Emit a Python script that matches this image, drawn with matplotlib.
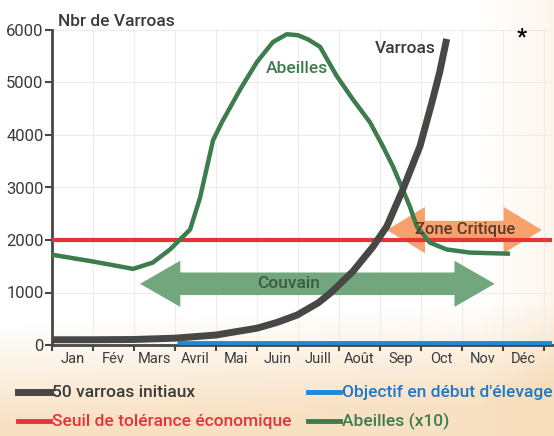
import numpy as np
import matplotlib.pyplot as plt
from matplotlib.patches import Polygon
from matplotlib.lines import Line2D

plt.rcParams['font.family'] = ['Roboto', 'DejaVu Sans']

months = ['Jan', 'Fév', 'Mars', 'Avril', 'Mai', 'Juin', 'Juill', 'Août',
          'Sep', 'Oct', 'Nov', 'Déc']

# varroa population (50 initial mites), x in months from 1 Jan
varroa_x = [0, 1, 2, 3, 4, 5.0, 5.49, 5.98, 6.49, 6.78, 7.34, 7.83, 8.17,
            8.56, 8.98, 9.29, 9.46, 9.63]
varroa_y = [100, 100, 105, 130, 190, 320, 430, 570, 800, 980, 1400, 1870,
            2260, 2960, 3790, 4680, 5200, 5830]

# bees (x10)
bees_x = [0, 1, 1.98, 2.46, 2.88, 3.37, 3.61, 3.93, 4.15, 4.6, 5.0, 5.39,
          5.73, 6.0, 6.25, 6.54, 6.95, 7.34, 7.76, 8.07, 8.32, 8.56, 8.73,
          8.9, 9.22, 9.63, 10.2, 11.12]
bees_y = [1720, 1590, 1450, 1570, 1820, 2200, 2800, 3900, 4250, 4880, 5390,
          5770, 5920, 5900, 5820, 5680, 5120, 4680, 4240, 3790, 3400, 2960,
          2640, 2260, 1950, 1820, 1760, 1740]

seuil = 2000
objectif = 30
objectif_start = 3.05

C_GRAY = '#474846'
C_RED = '#e6333a'
C_BLUE = '#1c8ad8'
C_GREEN = '#3d7c4e'
C_COUV = '#72a67c'
C_ZONE = '#f8a16c'
C_TXT = '#3b3b3b'

fig = plt.figure(figsize=(5.54, 4.36), dpi=100)

# warm background
bg = fig.add_axes([0, 0, 1, 1], zorder=-5)
yy, xx = np.mgrid[0:436, 0:554]
f = np.clip((yy - 300 - 25 * (1 - xx / 554.0)) / 100.0, 0, 1) * 0.9 \
    + np.clip((xx - 480) / 90.0, 0, 1) * 0.35
f = np.clip(f, 0, 1)
white = np.array([1.0, 1.0, 1.0])
peach = np.array([0.97, 0.87, 0.74])
img = white[None, None, :] * (1 - f[..., None]) + peach[None, None, :] * f[..., None]
bg.imshow(img, aspect='auto', extent=[0, 1, 0, 1], origin='upper')
bg.axis('off')

ax = fig.add_axes([52 / 554, 91 / 436, 500 / 554, 315 / 436])
ax.patch.set_alpha(0)
ax.set_xlim(0, 12.2)
ax.set_ylim(0, 6000)

# grid
for i in range(1, 13):
    ax.axvline(i, color='#ececea', lw=0.8, zorder=0)
for v in range(1000, 7000, 1000):
    ax.axhline(v, color='#ececea', lw=0.8, zorder=0)


def double_arrow(x0, x1, yc, shaft, head, hlen, color):
    pts = [(x0, yc), (x0 + hlen, yc + head), (x0 + hlen, yc + shaft),
           (x1 - hlen, yc + shaft), (x1 - hlen, yc + head), (x1, yc),
           (x1 - hlen, yc - head), (x1 - hlen, yc - shaft),
           (x0 + hlen, yc - shaft), (x0 + hlen, yc - head)]
    ax.add_patch(Polygon(pts, closed=True, fc=color, ec='none', zorder=1))


double_arrow(2.15, 10.8, 1166, 215, 440, 0.98, C_COUV)
double_arrow(8.17, 11.95, 2190, 175, 440, 0.93, C_ZONE)

ax.plot([0, 12.2], [seuil, seuil], color=C_RED, lw=3, zorder=3)
ax.plot([objectif_start, 12.2], [objectif, objectif], color=C_BLUE, lw=3.5,
        zorder=3, solid_capstyle='butt')
ax.plot(bees_x, bees_y, color=C_GREEN, lw=3.2, zorder=4,
        solid_joinstyle='round')
ax.plot(varroa_x, varroa_y, color=C_GRAY, lw=5, zorder=5,
        solid_capstyle='butt', solid_joinstyle='round')

ax.text(5.76, 1166, 'Couvain', color='#3c5a44', fontsize=12.5, weight='medium',
        ha='center', va='center', zorder=6)
ax.text(10.07, 2200, 'Zone Critique', color='#5a3a2c', fontsize=12,
        weight='medium', ha='center', va='center', zorder=6)
ax.text(5.98, 5260, 'Abeilles', color=C_GREEN, fontsize=12.5, weight='medium',
        ha='center', va='center', zorder=6)
ax.text(8.63, 5640, 'Varroas', color=C_TXT, fontsize=12.5, weight='medium',
        ha='center', va='center', zorder=6)

# axes styling
for s in ['top', 'right']:
    ax.spines[s].set_visible(False)
for s in ['left', 'bottom']:
    ax.spines[s].set_color(C_GRAY)
    ax.spines[s].set_linewidth(2)
ax.set_yticks(range(0, 7000, 1000))
ax.tick_params(axis='y', length=5, width=1.5, color=C_GRAY, labelsize=12,
               labelcolor=C_TXT, pad=1)
ax.set_xticks(range(0, 13))
ax.set_xticklabels([])
ax.tick_params(axis='x', which='major', length=4, width=1.5, color=C_GRAY)
ax.set_xticks(np.arange(0.5, 12, 1), minor=True)
ax.set_xticklabels(months, minor=True)
ax.tick_params(axis='x', which='minor', length=0, labelsize=10.5,
               labelcolor=C_TXT, pad=5)

fig.text(58 / 554, 1 - 22 / 436, 'Nbr de Varroas', color=C_TXT, fontsize=12.5,
         weight='medium', va='center', ha='left')
fig.text(522 / 554, 1 - 37 / 436, '*', color='black', fontsize=16,
         weight='bold', va='center', ha='center')

# legend
leg = [(18, 392, C_GRAY, 5, '50 varroas initiaux', C_TXT),
       (18, 421, C_RED, 3.5, 'Seuil de tolérance économique', C_RED),
       (308, 392, C_BLUE, 3.5, "Objectif en début d'élevage", '#1f78c8'),
       (308, 421, C_GREEN, 3.5, 'Abeilles (x10)', C_GREEN)]
for x0, y0, c, lw, label, tc in leg:
    yf = 1 - y0 / 436
    fig.add_artist(Line2D([x0 / 554, (x0 + 32) / 554], [yf, yf], color=c,
                          lw=lw, transform=fig.transFigure))
    fig.text((x0 + 34) / 554, yf, label, color=tc, fontsize=12.5,
             weight='medium', va='center', ha='left')

fig.savefig('out.png', dpi=100)
